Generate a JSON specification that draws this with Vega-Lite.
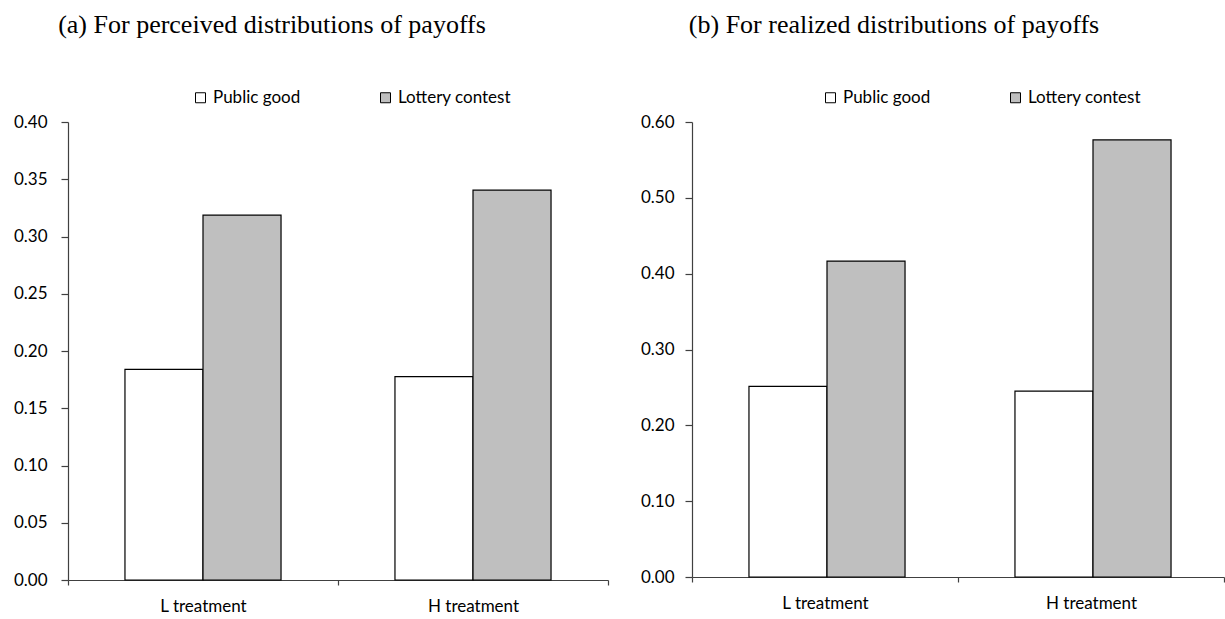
{
  "$schema": "https://vega.github.io/schema/vega-lite/v6.json",
  "background": "white",
  "padding": {"left": 13, "top": 12, "right": 0, "bottom": 0},
  "spacing": 31,
  "datasets": {
    "perceived": [
      {"treatment": "L treatment", "type": "Public good", "value": 0.184},
      {"treatment": "L treatment", "type": "Lottery contest", "value": 0.3186},
      {"treatment": "H treatment", "type": "Public good", "value": 0.1777},
      {"treatment": "H treatment", "type": "Lottery contest", "value": 0.3405}
    ],
    "realized": [
      {"treatment": "L treatment", "type": "Public good", "value": 0.2515},
      {"treatment": "L treatment", "type": "Lottery contest", "value": 0.4166},
      {"treatment": "H treatment", "type": "Public good", "value": 0.245},
      {"treatment": "H treatment", "type": "Lottery contest", "value": 0.5764}
    ]
  },
  "config": {
    "view": {"stroke": null},
    "font": "Lato",
    "title": {"font": "Liberation Serif", "fontSize": 26, "fontWeight": "normal", "color": "#000000"},
    "axis": {
      "labelFont": "Lato", "labelFontSize": 17, "labelColor": "#000000",
      "domainColor": "#404040", "tickColor": "#404040", "domainWidth": 1.2, "tickWidth": 1.2,
      "grid": false, "title": null
    },
    "legend": {"labelFont": "Lato", "labelFontSize": 17, "labelColor": "#000000"}
  },
  "hconcat": [
    {
      "data": {"name": "perceived"},
      "width": 540,
      "height": 458,
      "title": {"text": "(a) For perceived distributions of payoffs", "anchor": "middle", "dx": -66, "offset": 51},
      "mark": {"type": "bar", "stroke": "#000000", "strokeWidth": 1.2},
      "encoding": {
        "x": {"field": "treatment", "type": "nominal", "sort": ["L treatment", "H treatment"],
              "scale": {"paddingInner": 0, "paddingOuter": 0},
              "axis": {"labelAngle": 0, "tickBand": "extent", "tickSize": 5, "labelPadding": 13}},
        "xOffset": {"field": "type", "type": "nominal", "sort": ["Public good", "Lottery contest"],
                    "scale": {"paddingInner": 0, "paddingOuter": 0.73}},
        "y": {"field": "value", "type": "quantitative",
              "scale": {"domain": [0, 0.4], "nice": false},
              "axis": {"values": [0, 0.05, 0.1, 0.15, 0.2, 0.25, 0.3, 0.35, 0.4], "format": ".2f", "tickSize": 7, "labelPadding": 14}},
        "fill": {"field": "type", "type": "nominal",
                 "scale": {"domain": ["Public good", "Lottery contest"], "range": ["#FFFFFF", "#BFBFBF"]},
                 "legend": {"orient": "none", "direction": "horizontal", "legendX": 124, "legendY": -33, "title": null,
                            "symbolType": "square", "symbolSize": 100, "symbolStrokeColor": "#000000", "symbolStrokeWidth": 1,
                            "labelOffset": 4, "columnPadding": 76}}
      }
    },
    {
      "data": {"name": "realized"},
      "width": 532,
      "height": 455,
      "title": {"text": "(b) For realized distributions of payoffs", "anchor": "middle", "dx": -64, "offset": 51},
      "mark": {"type": "bar", "stroke": "#000000", "strokeWidth": 1.2},
      "encoding": {
        "x": {"field": "treatment", "type": "nominal", "sort": ["L treatment", "H treatment"],
              "scale": {"paddingInner": 0, "paddingOuter": 0},
              "axis": {"labelAngle": 0, "tickBand": "extent", "tickSize": 5, "labelPadding": 13}},
        "xOffset": {"field": "type", "type": "nominal", "sort": ["Public good", "Lottery contest"],
                    "scale": {"paddingInner": 0, "paddingOuter": 0.74}},
        "y": {"field": "value", "type": "quantitative",
              "scale": {"domain": [0, 0.6], "nice": false},
              "axis": {"values": [0, 0.1, 0.2, 0.3, 0.4, 0.5, 0.6], "format": ".2f", "tickSize": 7, "labelPadding": 11}},
        "fill": {"field": "type", "type": "nominal",
                 "scale": {"domain": ["Public good", "Lottery contest"], "range": ["#FFFFFF", "#BFBFBF"]},
                 "legend": {"orient": "none", "direction": "horizontal", "legendX": 130, "legendY": -33, "title": null,
                            "symbolType": "square", "symbolSize": 100, "symbolStrokeColor": "#000000", "symbolStrokeWidth": 1,
                            "labelOffset": 4, "columnPadding": 76}}
      }
    }
  ],
  "resolve": {"scale": {"fill": "independent"}, "legend": {"fill": "independent"}}
}
